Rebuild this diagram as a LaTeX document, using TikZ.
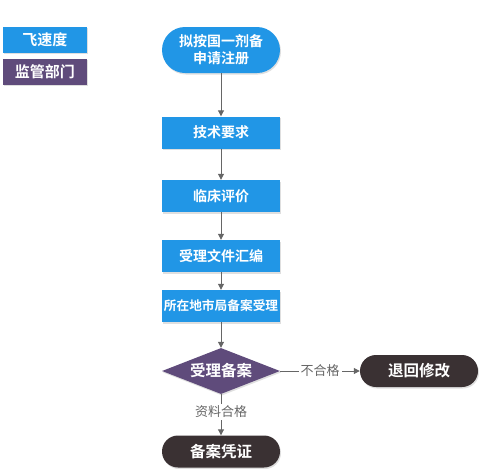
\documentclass[tikz,border=0pt]{standalone}
\usepackage{fontspec}
\newfontfamily\cjk{Noto Sans CJK SC}
\newfontfamily\cjkb{Noto Sans CJK SC Bold}
\usetikzlibrary{shapes.geometric,arrows.meta,shadows}
\definecolor{fblue}{HTML}{2196E6}
\definecolor{fpurple}{HTML}{5F4B7B}
\definecolor{fdark}{HTML}{3A3133}
\definecolor{fline}{HTML}{666666}
\tikzset{
  base/.style={text=white,font=\cjkb\fontsize{14}{17}\selectfont,inner sep=0pt,align=center,
    drop shadow={shadow xshift=1pt,shadow yshift=-1.5pt,opacity=0.25}},
  procbox/.style={base,rectangle,fill=fblue,minimum width=118pt,minimum height=32pt},
  startbox/.style={base,rectangle,rounded corners=23pt,fill=fblue,minimum width=118pt,minimum height=46pt},
  endbox/.style={base,rectangle,rounded corners=16pt,fill=fdark,minimum width=118pt,minimum height=32pt,
    font=\cjkb\fontsize{15.5}{18}\selectfont},
  decbox/.style={base,diamond,aspect=2.55,fill=fpurple,minimum width=118pt,minimum height=46pt,inner sep=0pt,
    font=\cjkb\fontsize{15.5}{18}\selectfont},
  legbox/.style={text=white,font=\cjkb\fontsize{15}{17}\selectfont,inner sep=0pt,minimum width=84pt,minimum height=26pt,
    drop shadow={shadow xshift=1pt,shadow yshift=-1.5pt,opacity=0.25}},
  conn/.style={draw=fline,line width=1pt,-{Triangle[length=6pt,width=6pt]}},
  lab/.style={fill=white,text=fline,font=\cjk\fontsize{13}{15}\selectfont,inner sep=2pt}
}
\begin{document}
\begin{tikzpicture}[x=1pt,y=-1pt]
\useasboundingbox (0,0) rectangle (480,469);
\node[legbox,fill=fblue] (l1) at (45,39.5) {飞速度};
\node[legbox,fill=fpurple] (l2) at (45,71.5) {监管部门};
\node[startbox] (s) at (221,50) {拟按国一剂备\\申请注册};
\node[procbox] (a) at (221,132.5) {技术要求};
\node[procbox] (b) at (221,196) {临床评价};
\node[procbox] (c) at (221,256) {受理文件汇编};
\node[procbox,font=\cjkb\fontsize{12.7}{15}\selectfont] (d) at (221,306) {所在地市局备案受理};
\node[decbox] (e) at (221,371) {受理备案};
\node[endbox] (r) at (419,371) {退回修改};
\node[endbox] (f) at (221,451.5) {备案凭证};
\draw[conn] (s) -- (a);
\draw[conn] (a) -- (b);
\draw[conn] (b) -- (c);
\draw[conn] (c) -- (d);
\draw[conn] (d) -- (e);
\draw[conn] (e) -- node[lab,pos=0.5] {不合格} (r);
\draw[conn] (e) -- node[lab,pos=0.43] {资料合格} (f);
\end{tikzpicture}
\end{document}
